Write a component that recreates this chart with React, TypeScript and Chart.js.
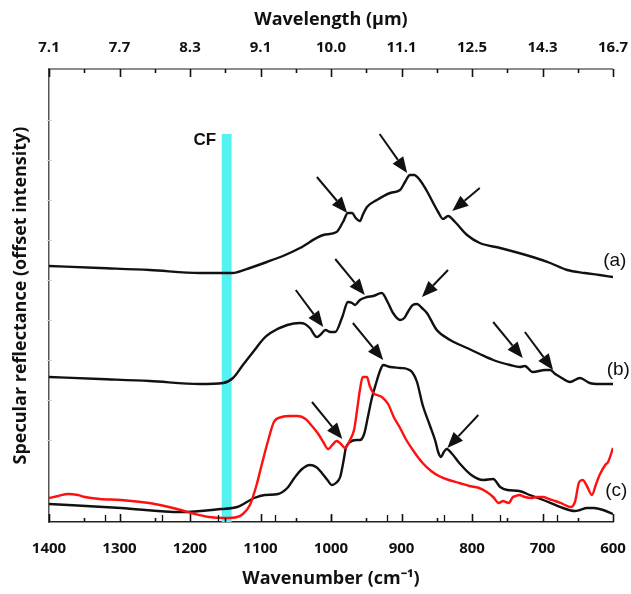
import { useEffect, useRef } from 'react';
import { Chart, registerables } from 'chart.js';
Chart.register(...registerables);

// ---- data (wavenumber cm^-1, offset intensity in arbitrary units) ----
const wnA = [1400, 1328, 1257, 1186, 1140, 1132, 1115, 1091, 1065, 1044, 1011, 992, 983, 976, 970, 965, 959, 955, 949, 935, 916, 902, 895, 888, 882, 874, 864, 855, 848, 841, 834, 824, 807, 789, 760, 714, 689, 665, 640, 619, 600];
const valA = [25.4, 25.2, 25.0, 24.7, 24.7, 24.8, 25.2, 25.8, 26.5, 27.2, 28.5, 28.8, 29.8, 30.7, 30.7, 30.2, 29.9, 30.5, 31.3, 32.0, 32.7, 33.0, 33.8, 34.5, 34.5, 34.0, 32.9, 31.7, 30.8, 30.1, 30.4, 29.8, 28.5, 27.7, 27.2, 26.3, 25.7, 25.0, 24.7, 24.5, 24.3];

const wnB = [1400, 1328, 1257, 1186, 1153, 1139, 1125, 1115, 1105, 1096, 1086, 1062, 1044, 1037, 1030, 1020, 1014, 1008, 1001, 994, 984, 976, 970, 966, 959, 949, 940, 928, 919, 912, 902, 896, 891, 884, 878, 871, 864, 850, 831, 807, 789, 770, 746, 732, 725, 714, 696, 689, 682, 675, 661, 647, 633, 619, 600];
const valB = [14.3, 14.1, 13.9, 13.6, 13.7, 14.2, 15.5, 16.4, 17.3, 18.1, 18.7, 19.5, 19.7, 19.6, 19.2, 18.3, 18.6, 19.0, 18.8, 18.8, 20.3, 21.8, 21.7, 21.5, 22.0, 22.3, 22.4, 22.7, 21.7, 20.7, 20.0, 20.2, 20.8, 21.5, 21.6, 21.2, 20.7, 19.0, 18.0, 17.2, 16.6, 16.0, 15.5, 15.3, 15.4, 14.8, 15.0, 15.0, 14.6, 14.3, 13.8, 14.2, 13.7, 13.6, 13.6];

const wnC = [1400, 1298, 1213, 1156, 1133, 1109, 1094, 1075, 1062, 1052, 1041, 1030, 1021, 1013, 1004, 999, 993, 987, 982, 979, 973, 964, 959, 953, 948, 942, 936, 930, 926, 916, 902, 892, 885, 878, 870, 860, 852, 848, 844, 840, 836, 828, 818, 801, 784, 770, 760, 750, 733, 718, 699, 671, 654, 647, 637, 627, 614, 600];
const valC = [1.6, 1.2, 0.8, 1.1, 1.3, 2.2, 2.5, 2.6, 3.2, 4.2, 5.1, 5.5, 5.3, 4.7, 3.9, 3.5, 3.7, 4.3, 6.0, 7.2, 7.8, 8.0, 8.0, 8.6, 10.2, 12.2, 13.7, 15.0, 15.5, 15.3, 15.2, 15.1, 14.8, 13.8, 11.5, 9.5, 7.9, 6.8, 6.3, 6.8, 7.1, 6.6, 5.7, 4.5, 4.0, 4.1, 3.3, 3.0, 2.9, 2.5, 2.0, 1.2, 0.9, 1.0, 1.2, 1.2, 1.0, 0.6];

const wnRed = [1400, 1387, 1373, 1359, 1349, 1328, 1298, 1258, 1236, 1213, 1193, 1173, 1150, 1133, 1125, 1115, 1106, 1098, 1089, 1081, 1070, 1058, 1047, 1036, 1027, 1018, 1011, 1004, 997, 992, 986, 980, 973, 967, 963, 959, 955, 949, 945, 940, 935, 928, 919, 911, 902, 894, 882, 870, 858, 847, 833, 818, 804, 790, 779, 770, 762, 756, 752, 748, 742, 738, 733, 725, 716, 708, 699, 691, 682, 671, 660, 654, 648, 643, 637, 630, 624, 619, 611, 607, 600];
const valRed = [2.2, 2.4, 2.6, 2.5, 2.3, 2.1, 2.0, 1.7, 1.4, 1.0, 0.6, 0.3, 0.2, 0.3, 0.6, 1.5, 3.4, 5.6, 8.0, 9.8, 10.3, 10.4, 10.4, 10.1, 9.4, 8.6, 7.8, 7.1, 7.6, 7.9, 7.6, 7.2, 8.0, 9.1, 11.0, 13.0, 14.3, 14.3, 13.4, 12.7, 12.5, 12.3, 11.6, 10.3, 9.2, 8.1, 6.8, 5.7, 4.9, 4.4, 4.0, 3.7, 3.4, 3.2, 2.8, 2.3, 1.7, 1.9, 1.8, 1.7, 2.3, 2.4, 2.5, 2.3, 2.2, 2.3, 2.3, 2.1, 1.9, 1.6, 1.3, 1.8, 3.8, 4.0, 3.4, 2.5, 3.6, 4.5, 5.5, 5.8, 7.2];

// axis ticks
const wavenumberTicks = [1400, 1300, 1200, 1100, 1000, 900, 800, 700, 600];
const wavelengthLabels = ['7.1', '7.7', '8.3', '9.1', '10.0', '11.1', '12.5', '14.3', '16.7'];
const minorTicks = [1350, 1250, 1150, 1050, 950, 850, 750, 650];
const extraBottomTicks = [1320, 1240, 1160, 1080, 1000, 920, 840, 760, 680];
const yTickValues = [8, 12, 16, 20, 24, 28, 32, 36, 40];

// annotations
const cfBand = [1155, 1141];
const cfTop = 38.6;
const cfLabel = { wn: 1163, v: 38.0, text: 'CF' };
const arrowFromWn = [1020, 931, 789, 1050, 994, 834, 770, 725, 969, 1027, 791];
const arrowFromVal = [34.3, 38.6, 33.2, 23.0, 26.1, 25.0, 19.8, 18.8, 19.7, 11.8, 10.5];
const arrowToWn = [977, 892, 828, 1011, 952, 871, 728, 685, 926, 984, 835];
const arrowToVal = [30.7, 34.7, 30.9, 19.3, 22.5, 22.3, 16.2, 15.0, 16.0, 8.1, 7.2];
const curveLabels = ['(a)', '(b)', '(c)'];
const curveLabelWn = [614, 609, 611];
const curveLabelVal = [25.9, 15.0, 2.9];

const pts = (xs: number[], ys: number[]) => xs.map((x, i) => ({ x, y: ys[i] }));

const overlayPlugin = {
  id: 'overlay',
  beforeDatasetsDraw(chart: any) {
    const { ctx, scales, chartArea } = chart;
    const x = scales.x, y = scales.y;
    const x1 = x.getPixelForValue(cfBand[0]);
    const x2 = x.getPixelForValue(cfBand[1]);
    const yTop = y.getPixelForValue(cfTop);
    ctx.save();
    ctx.fillStyle = '#55f2f2';
    ctx.fillRect(Math.min(x1, x2), yTop, Math.abs(x2 - x1), chartArea.bottom - yTop);
    ctx.restore();
  },
  afterDatasetsDraw(chart: any) {
    const { ctx, scales, chartArea } = chart;
    const x = scales.x, y = scales.y;
    ctx.save();
    // arrows
    ctx.strokeStyle = '#111';
    ctx.fillStyle = '#111';
    ctx.lineWidth = 2;
    for (let i = 0; i < arrowFromWn.length; i++) {
      const xa = x.getPixelForValue(arrowFromWn[i]);
      const ya = y.getPixelForValue(arrowFromVal[i]);
      const xb = x.getPixelForValue(arrowToWn[i]);
      const yb = y.getPixelForValue(arrowToVal[i]);
      const ang = Math.atan2(yb - ya, xb - xa);
      const hl = 16, hw = 6.5;
      const bx = xb - hl * Math.cos(ang), by = yb - hl * Math.sin(ang);
      ctx.beginPath();
      ctx.moveTo(xa, ya);
      ctx.lineTo(bx, by);
      ctx.stroke();
      ctx.beginPath();
      ctx.moveTo(xb, yb);
      ctx.lineTo(bx + hw * Math.sin(ang), by - hw * Math.cos(ang));
      ctx.lineTo(bx - hw * Math.sin(ang), by + hw * Math.cos(ang));
      ctx.closePath();
      ctx.fill();
    }
    // CF label
    ctx.font = 'bold 17px "Liberation Sans", Arial, sans-serif';
    ctx.textAlign = 'right';
    ctx.textBaseline = 'middle';
    ctx.fillStyle = '#111';
    ctx.fillText(cfLabel.text, x.getPixelForValue(cfLabel.wn), y.getPixelForValue(cfLabel.v));
    // curve labels
    ctx.font = '19px "Liberation Sans", Arial, sans-serif';
    ctx.textAlign = 'left';
    for (let i = 0; i < curveLabels.length; i++) {
      ctx.fillText(curveLabels[i], x.getPixelForValue(curveLabelWn[i]), y.getPixelForValue(curveLabelVal[i]));
    }
    // top axis line
    const top = chartArea.top, bottom = chartArea.bottom, left = chartArea.left, right = chartArea.right;
    ctx.strokeStyle = '#666';
    ctx.lineWidth = 1.5;
    ctx.beginPath();
    ctx.moveTo(left, top);
    ctx.lineTo(right, top);
    ctx.stroke();
    // inward ticks
    ctx.strokeStyle = '#111';
    ctx.lineWidth = 1.6;
    const tick = (wn: number, len: number) => {
      const px = Math.round(x.getPixelForValue(wn)) + 0.5;
      ctx.beginPath();
      ctx.moveTo(px, top);
      ctx.lineTo(px, top + len);
      ctx.stroke();
      ctx.beginPath();
      ctx.moveTo(px, bottom);
      ctx.lineTo(px, bottom - len);
      ctx.stroke();
    };
    wavenumberTicks.forEach((wn) => tick(wn, 8));
    minorTicks.forEach((wn) => tick(wn, 4));
    ctx.lineWidth = 1.3;
    extraBottomTicks.forEach((wn) => {
      const px = Math.round(x.getPixelForValue(wn)) + 0.5;
      ctx.beginPath();
      ctx.moveTo(px, bottom);
      ctx.lineTo(px, bottom - 7);
      ctx.stroke();
    });
    ctx.strokeStyle = '#d0d0d0';
    ctx.lineWidth = 1;
    yTickValues.forEach((v) => {
      const py = Math.round(y.getPixelForValue(v)) + 0.5;
      ctx.beginPath();
      ctx.moveTo(left - 2, py);
      ctx.lineTo(left + 3, py);
      ctx.stroke();
    });
    ctx.restore();
  },
};

export default function App() {
  const ref = useRef<HTMLCanvasElement>(null);
  useEffect(() => {
    if (!ref.current) return;
    const titleFont = { family: '"Open Sans", sans-serif', size: 18, weight: 'bold' as const };
    const tickFont = { family: '"Open Sans", sans-serif', size: 15, weight: 'bold' as const };
    const line = (data: any, color: string) => ({
      data,
      borderColor: color,
      backgroundColor: color,
      borderWidth: 2.4,
      pointRadius: 0,
      cubicInterpolationMode: 'monotone' as const,
      fill: false,
    });
    const fitX = (h: number) => (s: any) => { s.height = h; s.paddingLeft = 0; s.paddingRight = 0; };
    const chart = new Chart(ref.current, {
      type: 'line',
      data: {
        datasets: [
          line(pts(wnA, valA), '#111111'),
          line(pts(wnB, valB), '#111111'),
          line(pts(wnRed, valRed), '#ff1010'),
          line(pts(wnC, valC), '#111111'),
        ],
      },
      options: {
        animation: false,
        responsive: false,
        devicePixelRatio: 1,
        layout: { padding: { right: 18, left: 0, top: 0, bottom: 0 } },
        plugins: { legend: { display: false }, tooltip: { enabled: false } },
        scales: {
          x: {
            type: 'linear',
            position: 'bottom',
            min: 600,
            max: 1400,
            reverse: true,
            grid: { display: false, drawTicks: false },
            border: { display: true, color: '#222', width: 1.5 },
            afterBuildTicks: (s: any) => { s.ticks = wavenumberTicks.map((v) => ({ value: v })); },
            ticks: { font: tickFont, color: '#111', padding: 18, maxRotation: 0, autoSkip: false, callback: (v: any) => String(v) },
            afterFit: fitX(72),
            title: { display: true, text: 'Wavenumber (cm\u207B\u00B9)', font: titleFont, color: '#111', padding: { top: 0, bottom: 4 } },
          },
          xTop: {
            type: 'linear',
            position: 'top',
            min: 600,
            max: 1400,
            reverse: true,
            grid: { display: false, drawTicks: false },
            border: { display: false },
            afterBuildTicks: (s: any) => { s.ticks = wavenumberTicks.map((v) => ({ value: v })); },
            ticks: {
              font: tickFont,
              color: '#111',
              padding: 12,
              maxRotation: 0,
              autoSkip: false,
              callback: (v: any) => wavelengthLabels[wavenumberTicks.indexOf(Number(v))] ?? '',
            },
            afterFit: fitX(69),
            title: { display: true, text: 'Wavelength (\u00B5m)', font: titleFont, color: '#111', padding: { top: 9, bottom: 0 } },
          },
          y: {
            type: 'linear',
            min: -0.2,
            max: 45.1,
            grid: { display: false, drawTicks: false },
            border: { display: true, color: '#555', width: 1.5 },
            ticks: { display: false },
            afterFit: (s: any) => { s.width = 49; s.paddingTop = 0; s.paddingBottom = 0; },
            title: { display: true, text: 'Specular reflectance (offset intensity)', font: titleFont, color: '#111', padding: { top: 10, bottom: 0 } },
          },
        },
      },
      plugins: [overlayPlugin],
    } as any);
    return () => chart.destroy();
  }, []);
  return (
    <div style={{ position: 'absolute', left: 0, top: 0, width: 631, height: 594, background: '#fff' }}>
      <canvas ref={ref} width={631} height={594} style={{ display: 'block' }} />
    </div>
  );
}
